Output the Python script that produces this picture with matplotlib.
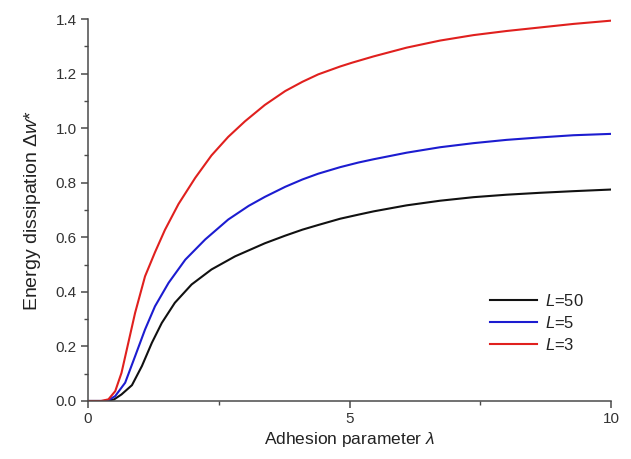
import matplotlib
matplotlib.use("Agg")
import matplotlib.pyplot as plt
from matplotlib.ticker import MultipleLocator

plt.rcParams['font.family'] = ['Liberation Sans', 'DejaVu Sans']
plt.rcParams['mathtext.fontset'] = 'custom'
plt.rcParams['mathtext.rm'] = 'Liberation Sans'
plt.rcParams['mathtext.it'] = 'Liberation Sans:italic'

# Data
x_L50 = [0.0, 0.35, 0.5, 0.64, 0.84, 1.03, 1.22, 1.41, 1.66, 1.98, 2.36, 2.81, 3.38, 3.77, 4.1, 4.4, 4.82,
         5.17, 5.46, 6.09, 6.73, 7.37, 8.0, 8.64, 9.28, 10.0]
y_L50 = [0.0, 0.0, 0.006, 0.024, 0.058, 0.128, 0.213, 0.286, 0.360, 0.427, 0.482, 0.530, 0.578, 0.606, 0.628,
         0.645, 0.668, 0.683, 0.695, 0.717, 0.734, 0.747, 0.756, 0.763, 0.769, 0.775]

x_L5 = [0.0, 0.3, 0.4, 0.52, 0.71, 0.90, 1.09, 1.28, 1.54, 1.86, 2.24, 2.68, 3.07, 3.38, 3.77, 4.1, 4.4,
        4.82, 5.17, 5.46, 6.09, 6.73, 7.37, 8.0, 8.64, 9.28, 10.0]
y_L5 = [0.0, 0.0, 0.004, 0.018, 0.067, 0.164, 0.262, 0.347, 0.433, 0.518, 0.592, 0.665, 0.715, 0.748, 0.785,
        0.812, 0.833, 0.857, 0.874, 0.886, 0.910, 0.930, 0.945, 0.957, 0.966, 0.974, 0.979]

x_L3 = [0.0, 0.25, 0.39, 0.52, 0.64, 0.77, 0.90, 1.09, 1.28, 1.47, 1.73, 2.05, 2.36, 2.68, 3.00, 3.38, 3.77,
        4.1, 4.4, 4.82, 5.05, 5.46, 6.09, 6.73, 7.37, 8.0, 8.64, 9.28, 10.0]
y_L3 = [0.0, 0.0, 0.006, 0.036, 0.103, 0.213, 0.323, 0.457, 0.545, 0.627, 0.722, 0.818, 0.900, 0.968, 1.025,
        1.085, 1.136, 1.170, 1.197, 1.226, 1.240, 1.263, 1.295, 1.321, 1.341, 1.356, 1.369, 1.382, 1.394]

labels = [r'$L$=50', r'$L$=5', r'$L$=3']
colors = ['#111111', '#1c1cd0', '#e0201e']

fig = plt.figure(figsize=(6.31, 4.59), dpi=100)
ax = fig.add_axes([0.1395, 0.1264, 0.8290, 0.8322])

for xs, ys, lab, c in zip([x_L50, x_L5, x_L3], [y_L50, y_L5, y_L3], labels, colors):
    ax.plot(xs, ys, color=c, lw=1.5, label=lab, solid_joinstyle='round')

ax.set_xlim(0, 10)
ax.set_ylim(0, 1.4)
ax.xaxis.set_major_locator(MultipleLocator(5))
ax.xaxis.set_minor_locator(MultipleLocator(2.5))
ax.yaxis.set_major_locator(MultipleLocator(0.2))
ax.yaxis.set_minor_locator(MultipleLocator(0.1))
ax.yaxis.set_major_formatter(plt.FormatStrFormatter('%.1f'))

for s in ['top', 'right']:
    ax.spines[s].set_visible(False)
for s in ['left', 'bottom']:
    ax.spines[s].set_color('#4a4a4a')
    ax.spines[s].set_linewidth(1.1)

ax.tick_params(which='major', direction='out', length=5, width=1.1, color='#4a4a4a',
               labelsize=11, labelcolor='#333333', pad=3)
ax.tick_params(which='minor', direction='out', length=3, width=1.0, color='#4a4a4a')

ax.set_xlabel(r'Adhesion parameter $\lambda$', fontsize=12.5, color='#222222', labelpad=3)
ax.set_ylabel(r'Energy dissipation $\Delta w$*', fontsize=14, color='#222222', labelpad=9)

leg = ax.legend(loc='upper left', bbox_to_anchor=(0.769, 0.283), frameon=False, fontsize=12,
                handlelength=2.8, labelspacing=0.35, handletextpad=0.5, borderpad=0,
                borderaxespad=0)
for t in leg.get_texts():
    t.set_color('#222222')

fig.savefig('out.png', dpi=100)
